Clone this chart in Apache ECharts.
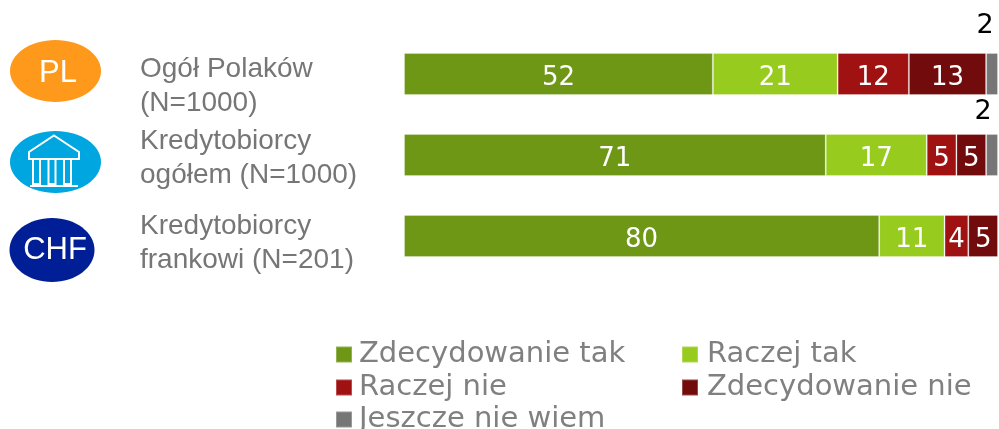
<!DOCTYPE html>
<html>
<head>
<meta charset="utf-8">
<style>
  html, body { margin: 0; padding: 0; background: #fff; }
  #chart { width: 999px; height: 429px; }
</style>
<script src="https://cdn.jsdelivr.net/npm/echarts@6/dist/echarts.min.js"></script>
</head>
<body>
<div id="chart"></div>
<script>
// dane
var categories = ["Ogół Polaków\n(N=1000)", "Kredytobiorcy\nogółem (N=1000)", "Kredytobiorcy\nfrankowi (N=201)"];
var zdecydowanieTak = [52, 71, 80];
var raczejTak = [21, 17, 11];
var raczejNie = [12, 5, 4];
var zdecydowanieNie = [13, 5, 5];
var jeszczeNieWiem = [2, 2, null];

var seriesNames = ["Zdecydowanie tak", "Raczej tak", "Raczej nie", "Zdecydowanie nie", "Jeszcze nie wiem"];
var seriesColors = ["#6f9716", "#97cb1d", "#a01212", "#720c0c", "#767676"];
var seriesValues = [zdecydowanieTak, raczejTak, raczejNie, zdecydowanieNie, jeszczeNieWiem];

var legendPos = [[335, 340], [681, 340], [335, 373], [681, 373], [335, 405]];
var legendTextGap = [2, 4, 2, 4, 2];
var topLabelOffset = [[-7, -9], [-9, -4], [0, 0]];
var labelFont = "'DejaVu Sans', Verdana, sans-serif";
var sideFont = "'Liberation Sans', Arial, sans-serif";

var chart = echarts.init(document.getElementById("chart"));

function makeSeries(i) {
    var isLast = i === seriesNames.length - 1;
    return {
        name: seriesNames[i],
        type: "bar",
        stack: "total",
        barWidth: 42,
        itemStyle: {
            color: seriesColors[i],
            borderColor: "rgba(255,255,255,0.25)",
            borderWidth: 1
        },
        label: {
            show: true,
            position: isLast ? "top" : "inside",
            offset: [0, 4],
            color: isLast ? "#000" : "#fff",
            fontFamily: labelFont,
            fontSize: isLast ? 27 : 26
        },
        data: seriesValues[i].map(function (v, k) {
            // dwójki nad szarym kawałkiem mają własne przesunięcie
            return isLast ? { value: v, label: { offset: topLabelOffset[k] } } : v;
        })
    };
}

function makeLegend(i) {
    return {
        data: [seriesNames[i]],
        left: legendPos[i][0],
        top: legendPos[i][1],
        itemWidth: 16,
        itemHeight: 16,
        padding: 0,
        icon: "rect",
        selectedMode: false,
        textStyle: {
            color: "#808080",
            fontFamily: labelFont,
            fontSize: 29,
            padding: [0, 0, 0, legendTextGap[i]]
        }
    };
}

// ikony i opisy po lewej
var white = { fill: "none", stroke: "#fff", lineWidth: 2 };
var icons = [
    { type: "ellipse", shape: { cx: 55.5, cy: 71, rx: 45.5, ry: 31 }, style: { fill: "#fe991c" } },
    { type: "text", style: { text: "PL", x: 58, y: 73, fill: "#fff", font: "31px " + sideFont, align: "center", verticalAlign: "middle" } },
    { type: "ellipse", shape: { cx: 55.5, cy: 162, rx: 45.5, ry: 31 }, style: { fill: "#00a6e0" } },
    { type: "polygon", shape: { points: [[54, 135.5], [79, 152], [79, 159], [29, 159], [29, 152]] }, style: white },
    { type: "rect", shape: { x: 33, y: 159, width: 7, height: 25 }, style: white },
    { type: "rect", shape: { x: 48.5, y: 159, width: 7, height: 25 }, style: white },
    { type: "rect", shape: { x: 64, y: 159, width: 7, height: 25 }, style: white },
    { type: "line", shape: { x1: 30, y1: 186, x2: 78, y2: 186 }, style: white },
    { type: "ellipse", shape: { cx: 52, cy: 250, rx: 42.5, ry: 32 }, style: { fill: "#001e96" } },
    { type: "text", style: { text: "CHF", x: 55, y: 250, fill: "#fff", font: "31px " + sideFont, align: "center", verticalAlign: "middle" } }
];
var labelY = [86, 158.5, 243];
categories.forEach(function (c, i) {
    icons.push({
        type: "text",
        style: { text: c, x: 140, y: labelY[i], fill: "#767676", font: "28px " + sideFont, lineHeight: 34, align: "left", verticalAlign: "middle" }
    });
});

var option = {
    animation: false,
    backgroundColor: "#fff",
    legend: seriesNames.map(function (n, i) { return makeLegend(i); }),
    grid: { left: 404, right: 1, top: 33.5, height: 243 },
    xAxis: { type: "value", min: 0, max: 100, show: false },
    yAxis: {
        type: "category",
        inverse: true,
        data: categories,
        axisLine: { show: false },
        axisTick: { show: false },
        axisLabel: { show: false }
    },
    series: seriesNames.map(function (n, i) { return makeSeries(i); }),
    graphic: icons
};
chart.setOption(option);
</script>
</body>
</html>
